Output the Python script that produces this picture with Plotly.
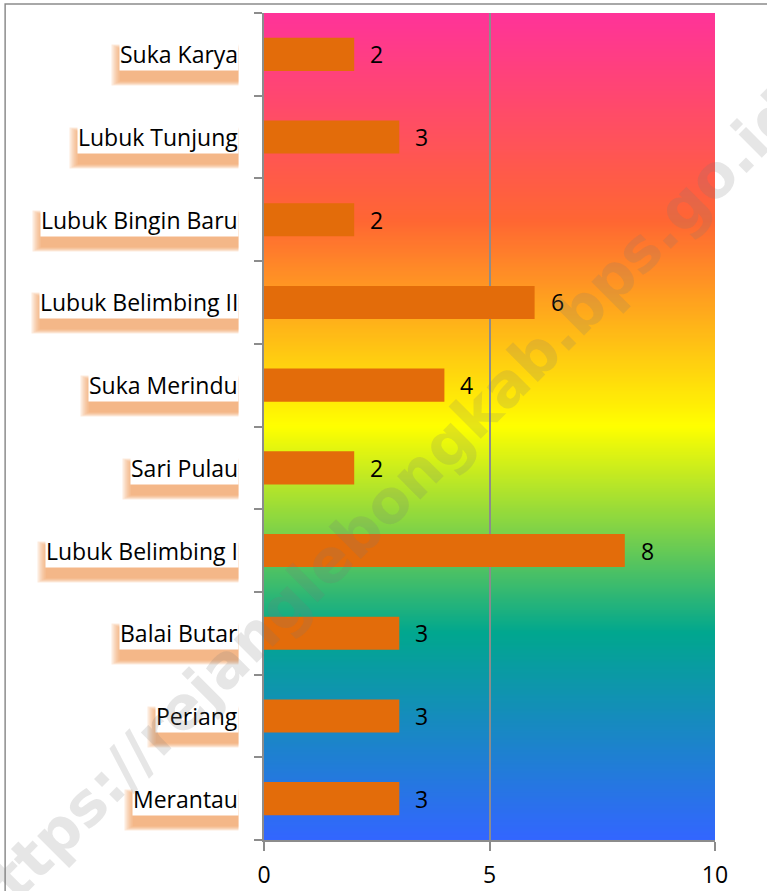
import base64
import struct
import zlib
import plotly.graph_objects as go

# ---------------- data ----------------
categories = ["Merantau", "Periang", "Balai Butar", "Lubuk Belimbing I", "Sari Pulau",
              "Suka Merindu", "Lubuk Belimbing II", "Lubuk Bingin Baru", "Lubuk Tunjung", "Suka Karya"]
values = [3, 3, 3, 8, 2, 4, 6, 2, 3, 2]
x_ticks = [0, 5, 10]
watermark_text = "https://rejanglebongkab.bps.go.id"

# background gradient stops (top -> bottom), Office "Rainbow II" style
grad_stops = [(0.0, (255, 51, 153)), (0.25, (255, 102, 51)), (0.5, (255, 255, 0)),
              (0.75, (1, 167, 143)), (1.0, (51, 102, 255))]

BAR_COLOR = "#E36C0A"
GRID = "#8C8C8C"
FONT = "Open Sans"


def gradient_png(stops, rows=400, width=4):
    def col(t):
        for (p0, c0), (p1, c1) in zip(stops[:-1], stops[1:]):
            if p0 <= t <= p1:
                f = (t - p0) / (p1 - p0) if p1 > p0 else 0
                return tuple(int(round(a + (b - a) * f)) for a, b in zip(c0, c1))
        return stops[-1][1]
    raw = b""
    for r in range(rows):
        c = col(r / (rows - 1))
        raw += b"\x00" + bytes(c) * width

    def chunk(tag, data):
        return struct.pack(">I", len(data)) + tag + data + struct.pack(">I", zlib.crc32(tag + data) & 0xffffffff)
    png = b"\x89PNG\r\n\x1a\n"
    png += chunk(b"IHDR", struct.pack(">IIBBBBB", width, rows, 8, 2, 0, 0, 0))
    png += chunk(b"IDAT", zlib.compress(raw, 9))
    png += chunk(b"IEND", b"")
    return "data:image/png;base64," + base64.b64encode(png).decode()


fig = go.Figure()
fig.add_trace(go.Bar(
    x=values, y=categories, orientation="h", width=0.4,
    marker=dict(color=BAR_COLOR, line=dict(width=0)),
    hoverinfo="skip",
))

annotations = []
# category labels: blurred orange shadow + white box
for cat in categories:
    for pad in (4, 3, 2, 1, 0):
        annotations.append(dict(
            x=0, xref="paper", y=cat, yref="y", xanchor="right", yanchor="middle",
            xshift=-25, yshift=-11, text=cat, showarrow=False,
            font=dict(family=FONT, size=23, color="rgba(0,0,0,0)"),
            bgcolor="rgba(240,150,80,0.2)", borderpad=pad,
        ))
for cat in categories:
    annotations.append(dict(
        x=0, xref="paper", y=cat, yref="y", xanchor="right", yanchor="middle",
        xshift=-25, text=cat, showarrow=False,
        font=dict(family=FONT, size=23, color="black"),
        bgcolor="white", borderpad=0,
    ))
# data labels
for cat, v in zip(categories, values):
    annotations.append(dict(
        x=v, xref="x", y=cat, yref="y", xanchor="left", yanchor="middle",
        xshift=14, text=str(v), showarrow=False,
        font=dict(family=FONT, size=23, color="black"),
    ))
# watermark
annotations.append(dict(
    x=0.257, y=0.399, xref="paper", yref="paper", xanchor="center", yanchor="middle",
    text="<b>" + watermark_text + "</b>", showarrow=False, textangle=-45,
    font=dict(family="DejaVu Sans", size=60, color="rgba(120,120,120,0.19)"),
))

fig.update_layout(
    width=767, height=891,
    margin=dict(l=264, r=52, t=13, b=51),
    paper_bgcolor="white", plot_bgcolor="rgba(0,0,0,0)",
    showlegend=False,
    images=[dict(source=gradient_png(grad_stops), xref="paper", yref="paper",
                 x=0, y=1, sizex=1, sizey=1, sizing="stretch",
                 xanchor="left", yanchor="top", layer="below")],
    shapes=[dict(type="rect", xref="paper", yref="paper",
                 x0=-0.574, x1=1.3, y0=-0.2, y1=1.0109,
                 line=dict(color=GRID, width=1.5), fillcolor="rgba(0,0,0,0)", layer="above")],
    annotations=annotations,
    xaxis=dict(range=[0, 10], tickvals=x_ticks, ticktext=[str(t) for t in x_ticks],
               automargin=False,
               showgrid=True, gridcolor=GRID, gridwidth=1.5, zeroline=False,
               showline=True, linecolor=GRID, linewidth=1.5,
               ticks="outside", ticklen=9, tickcolor=GRID, tickwidth=1.5,
               ticklabelstandoff=5,
               tickfont=dict(family=FONT, size=23, color="black")),
    yaxis=dict(type="category", categoryorder="array", categoryarray=categories,
               automargin=False,
               showgrid=False, zeroline=False, showticklabels=False,
               showline=True, linecolor=GRID, linewidth=1.5,
               ticks="outside", ticklen=8, tickcolor=GRID, tickwidth=1.5,
               tickson="boundaries"),
)

fig.write_html("out.html",
               config={"displayModeBar": False},
               post_script="document.body.style.margin='0';document.body.style.overflow='hidden';")
